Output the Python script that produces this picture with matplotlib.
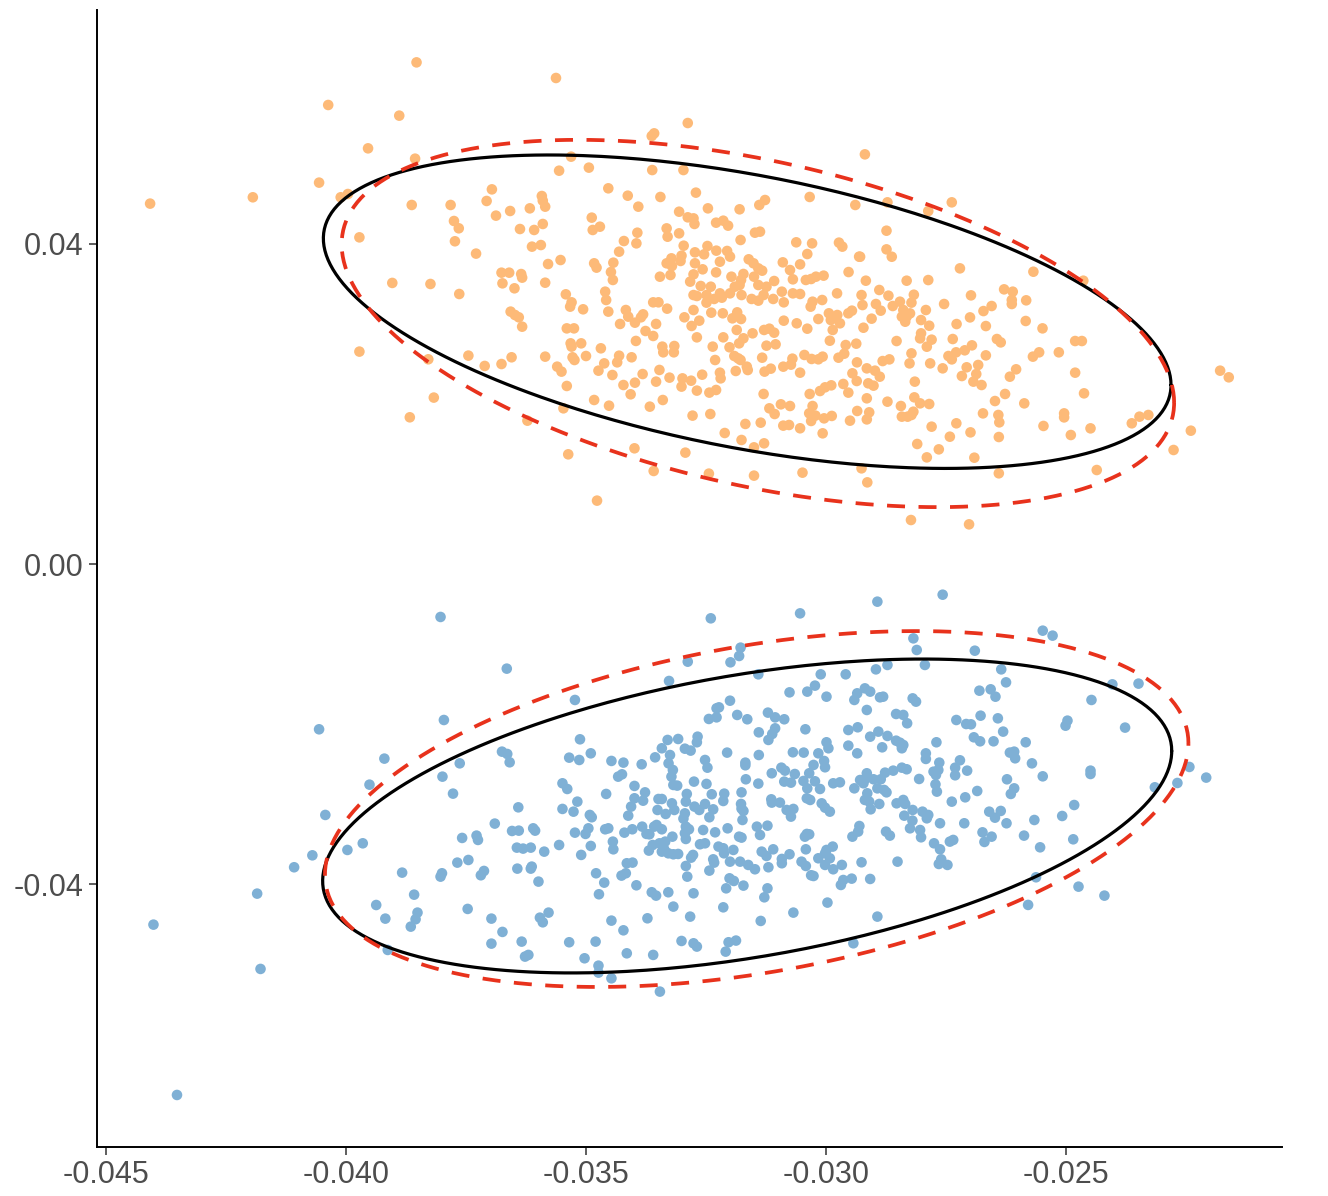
import numpy as np
import matplotlib
matplotlib.use("Agg")
import matplotlib.pyplot as plt

plt.rcParams['font.family'] = ['Liberation Sans', 'DejaVu Sans']

# ---------------- data (values in units of 1e-3) ----------------
# orange group, left part
orange_x_a = [-38.53,-40.37,-38.89,-39.54,-38.56,-40.56,-41.94,-44.08,-40.11,-39.96,
              -38.63,-37.82,-36.96,-37.07,-36.875,-37.75,-37.65,-39.72,-37.73,-37.29,
              -39.035,-38.24,-37.64,-39.72,-37.45,-37.11,-38.285,-38.17,-38.67,-35.625]
orange_y_a = [62.61,57.29,55.96,51.88,50.59,47.60,45.77,44.98,45.77,46.18,
              44.81,44.81,46.76,45.31,43.48,42.81,41.90,40.77,40.28,38.74,
              35.08,34.95,33.70,26.51,26.01,24.72,25.55,20.77,18.31,60.66]
# orange group, centre part
orange_x_b = [-32.88,-33.58,-33.63,-35.31,-35.56,-34.94,-33.62,-32.97,-34.535,-32.71,
              -34.13,-33.45,-30.34,-35.92,-35.90,-35.85,-36.17,-36.58,-33.91,-32.46,
              -31.80,-31.39,-31.27,-29.39,-33.06,-34.88,-34.71,-34.86,-32.88,-32.76,
              -32.74,-32.29,-32.14,-32.04,-33.32,-33.30,-33.06,-35.90,-36.08,-36.375,
              -31.48,-31.375,-31.78,-34.21,-33.93,-33.95,-36.125,-35.94,-32.965,-32.73,
              -32.47,-32.54,-32.285,-32.06,-32.00,-30.62,-30.29,-29.73,-29.66,-30.39,
              -29.31,-34.31,-35.53,-35.79,-34.83,-34.78,-34.43,-34.48,-34.44,-33.32,
              -33.22,-33.01,-33.03,-33.21,-33.24,-33.46,-32.73,-32.57,-32.21,-32.29,
              -32.76,-32.83,-31.61,-31.51,-31.41,-31.33,-30.90,-30.75,-30.69,-30.54,
              -31.97,-31.72,-31.77,-31.50,-31.80,-31.90,-36.76,-36.60,-36.35,-36.33,
              -36.74,-36.49,-35.85,-31.08,-30.42,-30.31,-30.21,-30.05,-29.53,-32.61,
              -32.40,-32.76,-32.69,-32.49,-32.21,-32.00,-31.76,-31.55,-31.41,-31.30,
              -31.41,-31.24,-31.10,-30.92,-30.69,-30.54,-29.77,-35.42,-35.30,-35.33,
              -35.06,-34.60,-34.58,-34.535,-33.60,-33.49,-33.31,-32.49,-32.33,-32.17,
              -36.57,-36.48,-36.40,-36.33,-34.17,-34.12,-33.98,-34.29,-33.81,-33.855,
              -33.54,-32.95,-32.76,-32.80,-32.64,-32.39,-32.15,-31.85,-31.95,-31.77,
              -30.88,-30.28,-30.32,-30.08,-30.88,-30.61,-30.39,-30.16,-29.94,-29.90,
              -29.765,-29.535,-29.46,-29.86,-29.71,-35.40,-35.25,-33.76,-33.60,-32.69,
              -32.14,-31.86,-31.72,-31.53,-31.29,-31.18,-31.08,-35.32,-35.10,-35.30,
              -33.96,-33.41,-33.16,-33.39,-33.17,-32.36,-32.01,-31.81,-31.24,-31.05,
              -29.92,-29.59,-29.37,-36.55,-35.85,-36.76,-35.28,-35.24,-35.00,-34.69,
              -34.31,-34.35,-34.62,-34.74,-34.05,-33.47,-32.31,-31.91,-31.83,-31.78,
              -31.33,-30.45,-30.30,-30.16,-30.07,-29.74,-29.62,-29.355,-30.70,-30.73,
              -30.89,-31.15,-31.28,-31.65,-31.63,-31.88,-35.60,-35.51,-35.40,-34.45,
              -33.82,-33.54,-33.26,-32.99,-33.01,-32.81,-32.58,-32.21,-32.195,-30.54,
              -29.45,-29.36,-29.64,-34.22,-33.98,-34.07,-32.69,-32.43,-32.29,-31.30,
              -30.34,-30.125,-30.02,-29.89,-29.535,-34.83,-34.52,-33.67,-33.40,-35.47,
              -36.22,-31.18,-31.07,-30.94,-30.75,-30.28,-30.35,-30.22,-30.31,-30.04,
              -29.88,-29.50,-29.35,-32.78,-32.41,-32.11,-31.68,-31.76,-31.36,-31.50,
              -31.29,-30.89,-30.77,-30.54,-30.07,-33.99,-35.37,-32.93,-33.59,-32.44,
              -31.50,-30.49,-34.77]
orange_y_b = [55.04,53.75,53.42,50.84,49.09,49.47,49.17,49.17,46.89,46.35,
              45.97,45.81,45.81,45.93,45.35,44.60,44.39,44.06,44.60,44.39,
              44.27,44.81,45.43,44.81,43.97,43.23,42.10,41.69,43.27,43.14,
              42.44,42.60,42.85,42.23,41.89,40.85,41.27,42.44,41.69,41.81,
              41.35,41.48,40.44,40.31,41.35,40.02,39.61,39.81,39.73,38.90,
              39.69,38.65,39.11,39.07,38.36,40.15,40.02,40.11,39.61,38.69,
              38.36,38.98,37.94,37.44,37.53,36.99,37.61,36.44,35.45,37.53,
              38.15,38.48,37.82,37.19,36.07,35.86,37.53,36.78,37.73,36.40,
              36.15,35.24,38.03,37.53,36.90,36.61,37.65,36.69,35.53,37.40,
              35.86,36.20,35.45,35.86,34.82,34.61,36.36,36.36,36.19,35.74,
              35.03,34.41,35.11,35.32,35.45,35.57,35.86,35.99,36.44,34.70,
              34.61,33.57,33.45,33.57,33.78,33.78,33.57,33.08,32.87,33.57,
              34.82,34.61,33.08,33.99,33.78,33.70,33.78,33.66,32.66,32.12,
              31.79,33.99,32.95,31.50,32.66,32.66,31.87,32.62,33.08,33.24,
              31.50,31.08,30.79,29.62,31.70,30.87,30.12,29.96,31.16,30.79,
              29.96,30.79,31.70,29.71,30.37,31.37,31.29,31.41,30.66,30.58,
              32.66,32.74,32.12,32.95,30.37,30.04,29.37,30.58,31.29,30.45,
              31.08,31.29,31.62,29.21,30.04,29.41,29.41,29.08,28.46,28.29,
              28.29,29.21,28.17,28.79,29.21,29.37,28.87,27.54,27.54,27.13,
              27.84,27.13,27.21,26.42,26.42,27.13,27.05,27.54,27.25,27.42,
              27.87,27.33,27.50,25.80,25.88,24.96,25.80,25.46,25.96,26.92,
              26.00,25.17,25.04,24.13,25.80,24.22,25.46,25.96,25.67,25.46,
              25.75,26.09,25.59,25.55,25.88,25.75,26.25,25.17,25.63,24.88,
              24.63,24.38,24.01,24.63,24.21,24.09,24.63,24.01,22.22,23.59,
              23.71,22.76,23.26,23.17,22.14,22.88,23.63,23.88,23.17,23.88,
              23.80,22.84,22.47,22.34,22.63,21.18,21.64,21.39,21.72,21.22,
              21.22,21.59,22.05,22.30,21.39,20.47,19.76,19.64,20.47,19.43,
              17.89,19.43,18.72,19.93,19.72,19.72,18.81,18.52,17.85,18.18,
              18.48,17.89,19.10,18.52,18.72,16.35,17.48,15.48,17.64,14.56,
              15.06,17.27,17.35,16.94,16.31,14.44,13.69,13.90,11.61,11.28,
              11.03,11.40,7.91]
# orange group, right part
orange_x_c = [-29.19,-28.72,-27.38,-27.87,-28.74,-28.74,-28.63,-29.29,-27.21,-25.68,
              -29.17,-28.32,-27.87,-24.64,-29.26,-28.89,-28.70,-28.17,-28.96,-28.86,
              -29.24,-28.61,-28.46,-28.22,-28.39,-28.25,-28.42,-28.32,-28.35,-27.92,
              -29.05,-29.22,-28.02,-27.85,-27.54,-26.98,-26.29,-26.11,-26.13,-26.13,
              -25.83,-26.55,-26.72,-27.00,-27.28,-26.67,-25.84,-25.49,-28.53,-28.02,
              -28.04,-27.80,-27.90,-27.36,-26.44,-26.36,-26.96,-27.11,-27.29,-27.45,
              -27.38,-26.67,-28.22,-28.26,-28.68,-28.82,-27.83,-27.57,-29.15,-28.98,
              -28.88,-29.12,-29.01,-28.15,-26.83,-27.07,-27.17,-26.87,-26.93,-26.76,
              -26.17,-26.04,-26.27,-26.48,-25.87,-25.69,-25.56,-25.15,-24.81,-24.67,
              -24.81,-24.625,-29.15,-28.16,-28.04,-27.85,-28.44,-28.72,-29.10,-29.15,
              -28.18,-28.22,-28.42,-28.30,-26.73,-26.41,-26.39,-27.285,-27.80,-26.99,
              -26.40,-27.42,-28.10,-27.65,-27.90,-26.91,-25.47,-25.04,-25.04,-24.90,
              -24.49,-23.47,-23.285,-23.63,-22.40,-22.76,-24.36,-26.40,-29.26,-29.14,
              -28.23,-27.02,-21.79,-21.61]
orange_y_c = [51.13,45.14,45.14,44.05,41.60,39.27,38.35,38.35,36.90,36.48,
              35.36,35.36,35.44,35.36,33.57,34.20,33.49,33.61,32.45,31.62,
              32.32,32.20,32.74,32.62,31.70,31.28,30.87,30.87,30.24,31.70,
              30.62,29.49,30.45,29.74,32.45,33.53,34.28,33.99,32.95,32.45,
              32.91,32.20,31.57,30.78,29.95,29.70,30.33,29.41,27.83,28.79,
              28.16,28.00,27.12,28.08,28.08,27.66,27.29,26.67,26.42,25.96,
              25.54,26.04,26.29,25.04,25.54,25.33,25.04,24.42,24.42,24.13,
              23.38,22.55,22.26,22.76,24.84,24.55,23.46,23.71,22.76,22.34,
              23.38,24.30,21.22,20.34,20.05,25.88,26.42,26.42,27.83,27.83,
              23.88,21.30,20.68,20.80,20.05,19.97,19.72,20.26,18.93,18.05,
              19.01,18.60,18.39,18.39,18.80,18.60,17.68,17.56,17.14,16.43,
              15.85,15.89,14.98,14.31,13.31,13.27,17.23,18.80,18.30,16.10,
              16.93,18.39,18.60,17.56,16.64,14.23,11.73,11.32,11.94,10.19,
              5.49,4.95,24.13,23.30]

# blue group, left part
blue_x_a = [-38.03,-36.65,-40.56,-37.96,-39.20,-36.75,-36.64,-36.59,-37.63,-37.99,
            -39.51,-37.77,-36.41,-40.43,-36.90,-36.54,-36.40,-37.58,-37.28,-37.25,
            -39.65,-39.97,-40.70,-36.44,-41.08,-37.68,-37.45,-36.43,-38.83,-38.00,
            -38.03,-37.125,-37.19,-41.85,-38.58,-39.37,-37.465,-39.18,-38.51,-38.55,
            -38.65,-36.97,-36.74,-36.97,-39.13,-44.01,-41.78,-43.52]
blue_y_a = [-6.61,-13.06,-20.63,-19.47,-24.29,-23.42,-23.71,-24.75,-24.88,-26.54,
            -27.54,-28.66,-30.37,-31.32,-32.40,-33.32,-33.28,-34.19,-33.90,-34.44,
            -34.86,-35.69,-36.36,-35.40,-37.85,-37.27,-36.94,-38.02,-38.52,-38.60,
            -39.02,-38.31,-38.85,-41.14,-41.27,-42.56,-43.05,-44.26,-43.51,-44.34,
            -45.26,-44.26,-45.92,-47.38,-48.17,-45.01,-50.54,-66.27]
# blue group, centre part
blue_x_b = [-32.40,-30.54,-31.78,-31.81,-31.99,-32.88,-33.27,-31.41,-35.23,-30.76,
            -30.39,-30.23,-30.11,-29.59,-29.99,-29.41,-29.35,-32.23,-32.28,-32.00,
            -32.44,-32.28,-31.85,-31.64,-31.21,-31.06,-30.87,-31.06,-31.12,-31.20,
            -31.40,-30.43,-29.535,-29.34,-35.125,-35.35,-35.14,-34.90,-34.47,-34.22,
            -33.84,-33.56,-33.42,-33.30,-33.08,-33.25,-33.28,-33.19,-33.22,-32.94,
            -32.82,-32.675,-32.69,-32.52,-32.47,-32.06,-31.68,-31.68,-31.40,-30.69,
            -30.465,-30.16,-29.99,-29.95,-29.535,-29.35,-30.04,-30.02,-30.26,-30.93,
            -30.855,-31.13,-30.65,-30.35,-30.47,-30.73,-30.87,-30.23,-30.125,-30.39,
            -30.40,-30.33,-29.85,-29.71,-29.41,-35.49,-35.39,-35.18,-35.26,-35.49,
            -34.92,-34.88,-34.95,-35.01,-35.23,-34.58,-34.33,-34.25,-33.99,-33.77,
            -33.81,-33.99,-34.06,-34.12,-33.18,-33.10,-33.49,-33.42,-33.51,-33.34,
            -33.21,-33.16,-32.90,-32.92,-32.75,-32.49,-32.38,-32.12,-32.14,-32.74,
            -32.64,-32.52,-32.35,-32.43,-32.94,-32.97,-31.76,-31.77,-31.76,-31.72,
            -31.67,-31.41,-31.74,-31.14,-31.13,-30.96,-30.82,-30.68,-30.73,-30.09,
            -30.02,-29.92,-36.10,-36.06,-36.31,-36.15,-35.87,-36.13,-36.15,-35.99,
            -35.56,-34.90,-35.10,-34.60,-34.535,-34.44,-34.43,-34.20,-34.035,-33.83,
            -33.74,-33.68,-33.58,-33.53,-33.42,-33.61,-33.69,-33.47,-33.42,-33.37,
            -33.285,-33.18,-33.08,-33.20,-33.35,-32.92,-32.94,-32.855,-32.92,-32.56,
            -32.31,-32.625,-32.52,-32.24,-32.14,-32.05,-31.93,-32.125,-31.81,-31.76,
            -31.44,-31.375,-31.22,-31.34,-31.24,-31.10,-30.76,-30.92,-30.92,-30.44,
            -30.40,-30.35,-30.42,-30.51,-30.42,-30.16,-30.02,-29.99,-29.86,-29.92,
            -30.02,-29.85,-29.67,-29.305,-29.33,-29.45,-29.465,-29.69,-29.64,-30.31,
            -30.26,-31.20,-31.48,-31.62,-31.79,-32.00,-32.01,-31.92,-32.08,-31.72,
            -31.22,-31.285,-32.35,-32.33,-32.43,-32.92,-32.89,-32.81,-32.77,-34.15,
            -34.03,-34.26,-34.17,-34.79,-34.62,-34.73,-33.95,-33.63,-33.54,-33.285,
            -33.18,-32.76,-32.14,-31.36,-30.68,-29.97,-35.96,-35.90,-35.78,-34.47,
            -34.22,-33.72,-32.83,-35.35,-34.80,-35.03,-34.74,-34.74,-34.47,-34.15,
            -33.60,-33.01,-32.76,-32.69,-32.03,-31.875,-32.09,-33.46,-36.34,-36.27,
            -36.20,-29.43]
blue_y_b = [-6.78,-6.16,-10.44,-11.48,-12.27,-12.19,-14.60,-13.77,-16.97,-16.02,
            -15.93,-15.18,-13.77,-13.77,-16.56,-16.97,-16.14,-17.89,-18.01,-17.06,
            -19.34,-19.14,-18.84,-19.38,-18.55,-19.14,-19.38,-20.51,-21.21,-21.96,
            -21.01,-20.63,-20.72,-20.38,-21.88,-24.17,-24.46,-23.63,-24.58,-24.79,
            -25.00,-24.13,-23.00,-21.96,-21.84,-23.84,-24.88,-25.71,-26.54,-23.05,
            -23.29,-21.55,-22.25,-24.46,-25.42,-23.54,-24.79,-25.12,-23.84,-23.50,
            -23.54,-23.63,-22.25,-23.00,-22.67,-23.63,-24.58,-25.37,-25.08,-25.42,
            -25.79,-26.12,-26.21,-26.12,-27.08,-27.29,-27.16,-27.12,-28.08,-28.00,
            -29.24,-29.45,-27.37,-27.25,-28.00,-27.37,-28.08,-29.66,-30.91,-30.57,
            -31.32,-31.61,-32.99,-33.69,-33.53,-28.70,-26.54,-26.25,-27.70,-28.50,
            -29.54,-29.24,-30.28,-31.41,-27.58,-27.66,-29.33,-29.33,-30.70,-31.20,
            -29.87,-30.70,-28.70,-29.66,-27.16,-27.45,-28.74,-28.66,-29.58,-30.28,
            -30.70,-29.95,-30.62,-31.61,-31.12,-31.78,-28.50,-29.95,-30.53,-30.82,
            -26.87,-27.41,-31.95,-29.37,-29.78,-29.78,-30.70,-30.57,-31.53,-29.87,
            -30.41,-30.91,-32.99,-33.28,-35.52,-35.40,-35.90,-37.77,-38.02,-39.64,
            -35.07,-35.19,-36.31,-33.11,-32.99,-34.65,-35.61,-33.53,-33.11,-32.78,
            -33.69,-33.74,-32.78,-32.57,-33.11,-35.07,-35.77,-34.86,-35.90,-35.61,
            -36.11,-36.23,-36.19,-34.03,-34.65,-32.78,-33.61,-33.11,-34.32,-33.20,
            -33.49,-34.98,-34.86,-35.27,-35.48,-32.99,-35.69,-36.11,-34.03,-34.15,
            -32.78,-33.82,-32.66,-35.90,-36.44,-35.61,-36.23,-36.81,-37.35,-34.03,
            -33.69,-33.74,-35.61,-37.15,-37.69,-36.73,-36.11,-35.69,-35.27,-36.73,
            -37.56,-38.10,-37.56,-32.70,-33.40,-34.03,-39.27,-40.06,-39.44,-38.85,
            -38.94,-37.85,-38.10,-37.56,-37.15,-37.15,-39.23,-39.56,-40.48,-40.14,
            -40.48,-41.60,-36.86,-37.27,-38.27,-37.69,-39.02,-36.65,-36.31,-37.35,
            -37.27,-38.89,-38.60,-38.60,-39.77,-41.22,-40.10,-40.97,-41.39,-40.97,
            -42.76,-41.10,-42.85,-44.55,-43.51,-42.26,-44.14,-44.72,-43.51,-44.51,
            -45.72,-44.22,-44.01,-47.21,-47.13,-49.21,-50.13,-51.00,-51.71,-48.59,
            -48.79,-47.05,-47.34,-47.75,-47.21,-47.00,-48.38,-53.37,-47.13,-49.00,
            -48.79,-47.34]
# blue group, right part
blue_x_c = [-28.93,-27.57,-28.18,-28.11,-26.90,-25.485,-25.28,-28.96,-28.72,-27.94,
            -26.35,-26.25,-24.035,-23.49,-24.47,-29.19,-29.08,-28.875,-28.81,-28.195,
            -28.125,-26.805,-26.57,-26.47,-29.15,-28.54,-28.39,-28.31,-27.285,-27.08,
            -26.98,-26.78,-26.42,-26.31,-24.97,-25.01,-23.77,-28.91,-29.08,-28.72,
            -28.54,-28.46,-28.39,-28.42,-28.83,-27.70,-26.92,-26.79,-26.51,-25.84,
            -26.17,-26.08,-26.06,-25.71,-25.485,-24.49,-24.49,-22.43,-22.08,-22.68,
            -23.15,-27.92,-27.92,-27.64,-27.21,-27.31,-27.06,-27.31,-27.76,-27.66,
            -27.71,-28.42,-28.32,-28.60,-28.77,-29.15,-29.19,-29.01,-28.86,-29.29,
            -29.22,-28.06,-27.72,-27.69,-28.93,-28.79,-28.74,-29.14,-29.19,-29.10,
            -28.89,-29.07,-28.53,-28.39,-28.35,-28.195,-28.37,-28.20,-27.99,-27.87,
            -27.90,-27.625,-27.38,-27.10,-26.85,-26.23,-26.08,-26.15,-26.60,-26.36,
            -26.48,-26.24,-27.12,-24.83,-25.08,-25.66,-28.75,-28.67,-28.25,-28.04,
            -28.02,-27.75,-27.625,-27.42,-27.35,-26.74,-26.70,-26.55,-25.875,-25.54,
            -24.85,-27.60,-27.65,-27.47,-29.26,-28.51,-29.08,-25.625,-24.74,-24.20,
            -25.79,-28.93]
blue_y_c = [-4.70,-3.83,-9.28,-10.73,-10.82,-8.32,-8.94,-13.15,-12.60,-12.60,
            -13.15,-14.77,-15.02,-14.93,-16.97,-15.52,-15.93,-16.64,-16.56,-16.77,
            -17.18,-15.81,-15.64,-16.56,-18.22,-18.72,-18.84,-19.88,-19.47,-19.97,
            -20.01,-18.93,-19.26,-20.92,-19.55,-20.18,-20.42,-20.92,-21.55,-21.46,
            -22.05,-22.30,-22.59,-23.00,-22.88,-22.25,-21.63,-22.13,-22.13,-22.25,
            -23.54,-23.42,-24.25,-24.88,-26.50,-25.79,-26.21,-25.33,-26.66,-27.33,
            -27.87,-23.63,-24.33,-24.79,-24.50,-25.42,-25.79,-26.37,-25.92,-25.71,
            -26.33,-25.42,-25.62,-25.79,-26.04,-26.12,-26.87,-26.87,-26.87,-26.96,
            -27.37,-26.83,-27.50,-28.41,-28.00,-28.20,-28.50,-28.62,-29.45,-29.66,
            -29.95,-30.62,-29.87,-29.45,-29.95,-30.70,-31.41,-32.03,-30.91,-31.32,
            -31.74,-32.36,-29.66,-29.12,-28.33,-26.87,-28.00,-28.70,-30.91,-30.82,
            -31.66,-32.36,-32.36,-30.08,-31.45,-31.95,-33.40,-33.90,-32.99,-33.20,
            -34.11,-34.86,-35.61,-34.65,-34.44,-33.49,-34.69,-34.03,-33.90,-35.36,
            -34.36,-36.86,-37.44,-37.56,-37.23,-37.15,-39.31,-39.10,-40.27,-41.39,
            -42.55,-44.01]

# ellipse parameters (units of 1e-3): centre x, centre y, x-amplitude, y-cos term, y-sin term
ell_orange_solid  = [-31.642, 31.49, 8.829, -9.148, 17.29]
ell_orange_dashed = [-31.419, 30.02, 8.671, -9.885, 20.68]
ell_blue_solid    = [-31.642, -31.45, 8.844, 8.112, 17.83]
ell_blue_dashed   = [-31.444, -30.58, 8.994, 8.20, 20.64]

x_ticks = [-0.045, -0.040, -0.035, -0.030, -0.025]
x_tick_labels = ["-0.045", "-0.040", "-0.035", "-0.030", "-0.025"]
y_ticks = [-0.04, 0.00, 0.04]
y_tick_labels = ["-0.04", "0.00", "0.04"]

ORANGE = "#FDBA78"
BLUE = "#7FB0D5"
RED = "#E8321C"

# ---------------- figure ----------------
fig = plt.figure(figsize=(13.28, 11.96), dpi=100)
ax = fig.add_axes([0.073, 0.041, 0.8924, 0.9506])

milli = 1e-3
ox = np.array(orange_x_a + orange_x_b + orange_x_c) * milli
oy = np.array(orange_y_a + orange_y_b + orange_y_c) * milli
bx = np.array(blue_x_a + blue_x_b + blue_x_c) * milli
by = np.array(blue_y_a + blue_y_b + blue_y_c) * milli

ax.scatter(ox, oy, s=58, color=ORANGE, edgecolors='none', zorder=2)
ax.scatter(bx, by, s=58, color=BLUE, edgecolors='none', zorder=2)

t = np.linspace(0, 2 * np.pi, 400)
def ellipse(p):
    cx, cy, a, b, c = p
    return (cx + a * np.cos(t)) * milli, (cy + b * np.cos(t) + c * np.sin(t)) * milli

for p in (ell_orange_solid, ell_blue_solid):
    ex, ey = ellipse(p)
    ax.plot(ex, ey, color='black', lw=2.3, zorder=3, solid_capstyle='round')
for p in (ell_orange_dashed, ell_blue_dashed):
    ex, ey = ellipse(p)
    ax.plot(ex, ey, color=RED, lw=2.7, zorder=4, linestyle=(0, (4.8, 3.6)))

ax.set_xlim(-0.0451875, -0.0205)
ax.set_ylim(-0.07276, 0.06914)

ax.set_xticks(x_ticks)
ax.set_xticklabels(x_tick_labels)
ax.set_yticks(y_ticks)
ax.set_yticklabels(y_tick_labels)

for s in ('top', 'right'):
    ax.spines[s].set_visible(False)
for s in ('left', 'bottom'):
    ax.spines[s].set_linewidth(1.4)
    ax.spines[s].set_color('black')

ax.tick_params(axis='both', labelsize=22, labelcolor='#4D4D4D',
               color='#333333', length=5.5, width=1.1, pad=4)

fig.savefig("out.png", dpi=100, facecolor='white')
